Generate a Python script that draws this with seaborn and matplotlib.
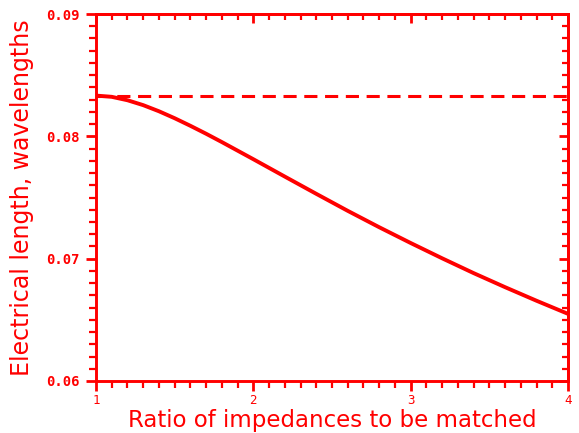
import matplotlib
matplotlib.use("Agg")
import matplotlib.pyplot as plt
from matplotlib.ticker import MultipleLocator, FixedLocator
import seaborn as sns
import pandas as pd

ratio = [1.0, 1.1, 1.2, 1.3, 1.4, 1.5, 1.6, 1.7, 1.8, 1.9, 2.0, 2.2, 2.4, 2.6,
         2.8, 3.0, 3.2, 3.4, 3.6, 3.8, 4.0]
length = [0.08333, 0.08323, 0.08295, 0.08255, 0.08205, 0.08148, 0.08086,
          0.08021, 0.07953, 0.07883, 0.07813, 0.07671, 0.07530, 0.07391,
          0.07257, 0.07128, 0.07003, 0.06882, 0.06767, 0.06656, 0.06549]
ref_level = 0.08333
x_ticks = [1, 2, 3, 4]
y_ticks = [0.06, 0.07, 0.08, 0.09]
y_tick_labels = ["0.06", "0.07", "0.08", "0.09"]

RED = "#ff0000"

sns.set_style("white")
plt.rcParams["font.family"] = ["DejaVu Sans"]

fig = plt.figure(figsize=(5.79, 4.33), dpi=100)
ax = fig.add_axes([96/579, 1-381/433, (568-96)/579, (381-14)/433])

df = pd.DataFrame({"ratio": ratio, "length": length})
sns.lineplot(data=df, x="ratio", y="length", ax=ax, color=RED, lw=2.8)
ax.axhline(ref_level, color=RED, lw=2.2, dashes=(4.3, 2.5))

ax.set_xlim(1, 4)
ax.set_ylim(0.06, 0.09)

for s in ax.spines.values():
    s.set_color(RED)
    s.set_linewidth(2.1)
    s.set_visible(True)

ax.xaxis.set_major_locator(FixedLocator(x_ticks))
ax.xaxis.set_minor_locator(MultipleLocator(0.1))
ax.yaxis.set_major_locator(FixedLocator(y_ticks))
ax.yaxis.set_minor_locator(MultipleLocator(0.001))
ax.set_xticklabels([str(v) for v in x_ticks])
ax.set_yticklabels(y_tick_labels)

ax.tick_params(which="major", direction="out", length=7.5, width=2.0, color=RED,
               labelcolor=RED, bottom=True, left=True, top=False, right=False)
ax.tick_params(which="minor", direction="out", length=5, width=1.6, color=RED,
               bottom=True, left=True, top=False, right=False)
ax.tick_params(axis="x", which="major", pad=2)
ax.tick_params(axis="y", which="major", pad=4)
for lab in ax.get_xticklabels():
    lab.set_fontfamily("DejaVu Sans Mono")
    lab.set_fontsize(9)
for lab in ax.get_yticklabels():
    lab.set_fontfamily("DejaVu Sans Mono")
    lab.set_fontweight("bold")
    lab.set_fontsize(10)

secx = ax.secondary_xaxis("top")
secx.xaxis.set_major_locator(FixedLocator(x_ticks))
secx.xaxis.set_minor_locator(MultipleLocator(0.1))
secx.tick_params(which="major", direction="in", length=6.5, width=2.0, color=RED, labeltop=False)
secx.tick_params(which="minor", direction="in", length=4, width=1.6, color=RED)
secx.spines["top"].set_color(RED)
secx.spines["top"].set_linewidth(2.1)

secy = ax.secondary_yaxis("right")
secy.yaxis.set_major_locator(FixedLocator(y_ticks))
secy.yaxis.set_minor_locator(MultipleLocator(0.001))
secy.tick_params(which="major", direction="in", length=6.5, width=2.0, color=RED, labelright=False)
secy.tick_params(which="minor", direction="in", length=4.5, width=1.6, color=RED)
secy.spines["right"].set_color(RED)
secy.spines["right"].set_linewidth(2.1)

ax.set_xlabel("Ratio of impedances to be matched", color=RED, fontsize=16.5)
ax.xaxis.set_label_coords(0.5, (381 - 409) / 367)
ax.set_ylabel("Electrical length, wavelengths", color=RED, fontsize=17, labelpad=9)

fig.savefig("out.png", dpi=100)
